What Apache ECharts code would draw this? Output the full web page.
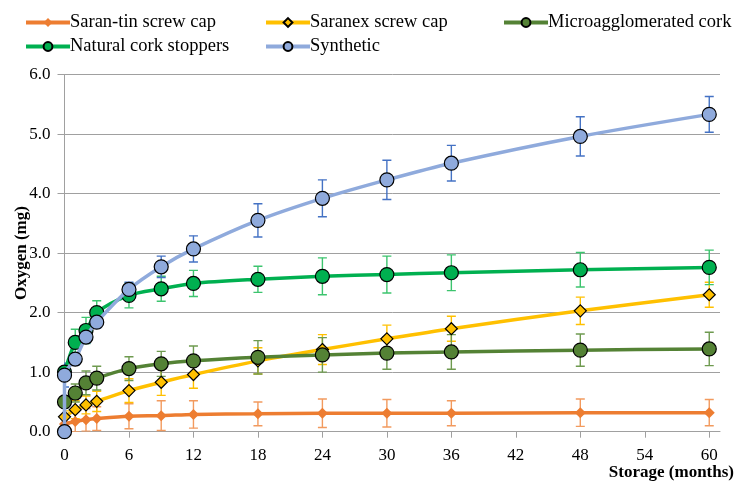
<!DOCTYPE html>
<html>
<head>
<meta charset="utf-8">
<script src="https://cdn.jsdelivr.net/npm/echarts@6/dist/echarts.min.js"></script>
<style>html,body{margin:0;padding:0;background:#fff}#chart{width:742px;height:492px}</style>
</head>
<body>
<div id="chart"></div>
<script>
// ---- data ----
const months = [0, 1, 2, 3, 6, 9, 12, 18, 24, 30, 36, 48, 60];
const monthsSynthetic = [0, 0, 1, 2, 3, 6, 9, 12, 18, 24, 30, 36, 48, 60];
const xTicks = [0, 6, 12, 18, 24, 30, 36, 42, 48, 54, 60];

const saranTin    = [0.13, 0.17, 0.20, 0.22, 0.26, 0.27, 0.29, 0.30, 0.31, 0.31, 0.31, 0.32, 0.32];
const saranTinErr = [0.12, 0.17, 0.19, 0.20, 0.21, 0.25, 0.23, 0.20, 0.24, 0.23, 0.21, 0.23, 0.22];

const saranex     = [0.25, 0.37, 0.45, 0.51, 0.69, 0.83, 0.96, 1.19, 1.38, 1.56, 1.73, 2.03, 2.30];
const saranexErr  = [0.10, 0.15, 0.15, 0.17, 0.20, 0.22, 0.23, 0.22, 0.25, 0.23, 0.21, 0.23, 0.21];

const micro       = [0.50, 0.65, 0.82, 0.90, 1.06, 1.14, 1.19, 1.25, 1.29, 1.32, 1.34, 1.37, 1.39];
const microErr    = [0.10, 0.15, 0.20, 0.20, 0.20, 0.21, 0.25, 0.28, 0.29, 0.27, 0.29, 0.27, 0.28];

const natural     = [1.00, 1.50, 1.70, 2.00, 2.29, 2.40, 2.49, 2.56, 2.61, 2.64, 2.67, 2.72, 2.76];
const naturalErr  = [0.10, 0.22, 0.22, 0.20, 0.21, 0.21, 0.22, 0.22, 0.31, 0.31, 0.30, 0.29, 0.29];

const synthetic   = [0, 0.95, 1.22, 1.59, 1.84, 2.39, 2.77, 3.07, 3.55, 3.92, 4.23, 4.51, 4.96, 5.33];
const syntheticErr= [0, 0.20, 0.10, 0.10, 0.10, 0.12, 0.18, 0.22, 0.28, 0.31, 0.33, 0.30, 0.33, 0.30];

const names = ['Saran-tin screw cap', 'Saranex screw cap', 'Microagglomerated cork', 'Natural cork stoppers', 'Synthetic'];
const xName = 'Storage (months)';
const yName = 'Oxygen (mg)';

// ---- helpers ----
const FONT = 'Liberation Serif';
function pairs(xs, ys) { return xs.map((x, i) => [x, ys[i]]); }
function errData(xs, ys, es) {
  return xs.map((x, i) => [x, ys[i] - es[i], ys[i] + es[i]]).filter((d, i) => es[i] > 0);
}
function errRender(color) {
  return function (params, api) {
    const x = api.value(0), lo = api.value(1), hi = api.value(2);
    const p1 = api.coord([x, lo]), p2 = api.coord([x, hi]);
    const hw = 4.5;
    const style = { stroke: color, lineWidth: 1.4 };
    return {
      type: 'group', children: [
        { type: 'line', shape: { x1: p1[0], y1: p1[1], x2: p2[0], y2: p2[1] }, style },
        { type: 'line', shape: { x1: p1[0] - hw, y1: p1[1], x2: p1[0] + hw, y2: p1[1] }, style },
        { type: 'line', shape: { x1: p2[0] - hw, y1: p2[1], x2: p2[0] + hw, y2: p2[1] }, style }
      ]
    };
  };
}
function lineSeries(name, data, color, symbol, size, border, z) {
  return {
    name, type: 'line', data, smooth: 0.3, z,
    symbol, symbolSize: size,
    lineStyle: { color, width: 3.5 },
    itemStyle: { color, borderColor: border ? '#000' : color, borderWidth: border ? 1.2 : 0 },
    emphasis: { disabled: true }
  };
}
function errSeries(data, color, z) {
  return { type: 'custom', data, renderItem: errRender(color), z, silent: true, clip: true };
}

const cols = {
  tin: '#ED7D31', tinErr: '#F29A5E',
  sx: '#FFC000', sxErr: '#FFC000',
  mi: '#548235', miErr: '#6E9A4F',
  na: '#00B050', naErr: '#3CC46E',
  sy: '#8FAADC', syErr: '#4472C4'
};

const legendBase = {
  itemWidth: 44, itemHeight: 11, itemGap: 0,
  lineStyle: { width: 4 },
  textStyle: { fontFamily: FONT, fontSize: 18.5, color: '#000', padding: [0, 0, 0, -5] }
};

const option = {
  animation: false,
  title: {
    text: xName, right: 3, top: 459,
    textStyle: { fontFamily: FONT, fontSize: 17, fontWeight: 'bold', color: '#000' }
  },
  legend: [
    Object.assign({ data: [names[0]], left: 19, top: 8 }, legendBase),
    Object.assign({ data: [names[1]], left: 259, top: 8 }, legendBase),
    Object.assign({ data: [names[2]], left: 497, top: 8 }, legendBase),
    Object.assign({ data: [names[3]], left: 19, top: 32 }, legendBase),
    Object.assign({ data: [names[4]], left: 259, top: 32 }, legendBase)
  ],
  grid: { left: 64.5, right: 22, top: 74.5, bottom: 60.3, containLabel: false, outerBoundsMode: 'none' },
  xAxis: {
    type: 'value', min: 0, max: 61, interval: 6,
    axisLine: { lineStyle: { color: '#A0A0A0', width: 1 } },
    axisTick: { show: true, length: 6, lineStyle: { color: '#A0A0A0' }, customValues: xTicks },
    axisLabel: { fontFamily: FONT, fontSize: 17, color: '#000', margin: 15, customValues: xTicks },
    splitLine: { show: false }
  },
  yAxis: {
    type: 'value', min: 0, max: 6, interval: 1,
    name: yName, nameLocation: 'middle', nameGap: 34, nameMoveOverlap: false,
    nameTextStyle: { fontFamily: FONT, fontSize: 17, fontWeight: 'bold', color: '#000' },
    axisLine: { show: true, lineStyle: { color: '#A0A0A0', width: 1 } },
    axisTick: { show: true, length: 7, lineStyle: { color: '#A0A0A0' } },
    axisLabel: { fontFamily: FONT, fontSize: 17, color: '#000', margin: 14, formatter: v => v.toFixed(1) },
    splitLine: { show: true, lineStyle: { color: '#A0A0A0', width: 1 } }
  },
  series: [
    errSeries(errData(months, saranTin, saranTinErr), cols.tinErr, 1),
    errSeries(errData(months, saranex, saranexErr), cols.sxErr, 1),
    errSeries(errData(months, micro, microErr), cols.miErr, 1),
    errSeries(errData(months, natural, naturalErr), cols.naErr, 1),
    errSeries(errData(monthsSynthetic, synthetic, syntheticErr), cols.syErr, 1),
    lineSeries(names[0], pairs(months, saranTin), cols.tin, 'diamond', 11, false, 2),
    lineSeries(names[1], pairs(months, saranex), cols.sx, 'diamond', 12, true, 3),
    lineSeries(names[2], pairs(months, micro), cols.mi, 'circle', 14, true, 4),
    lineSeries(names[3], pairs(months, natural), cols.na, 'circle', 14, true, 5),
    lineSeries(names[4], pairs(monthsSynthetic, synthetic), cols.sy, 'circle', 14, true, 6)
  ]
};

const chart = echarts.init(document.getElementById('chart'), null, { renderer: 'canvas' });
chart.setOption(option);
</script>
</body>
</html>
